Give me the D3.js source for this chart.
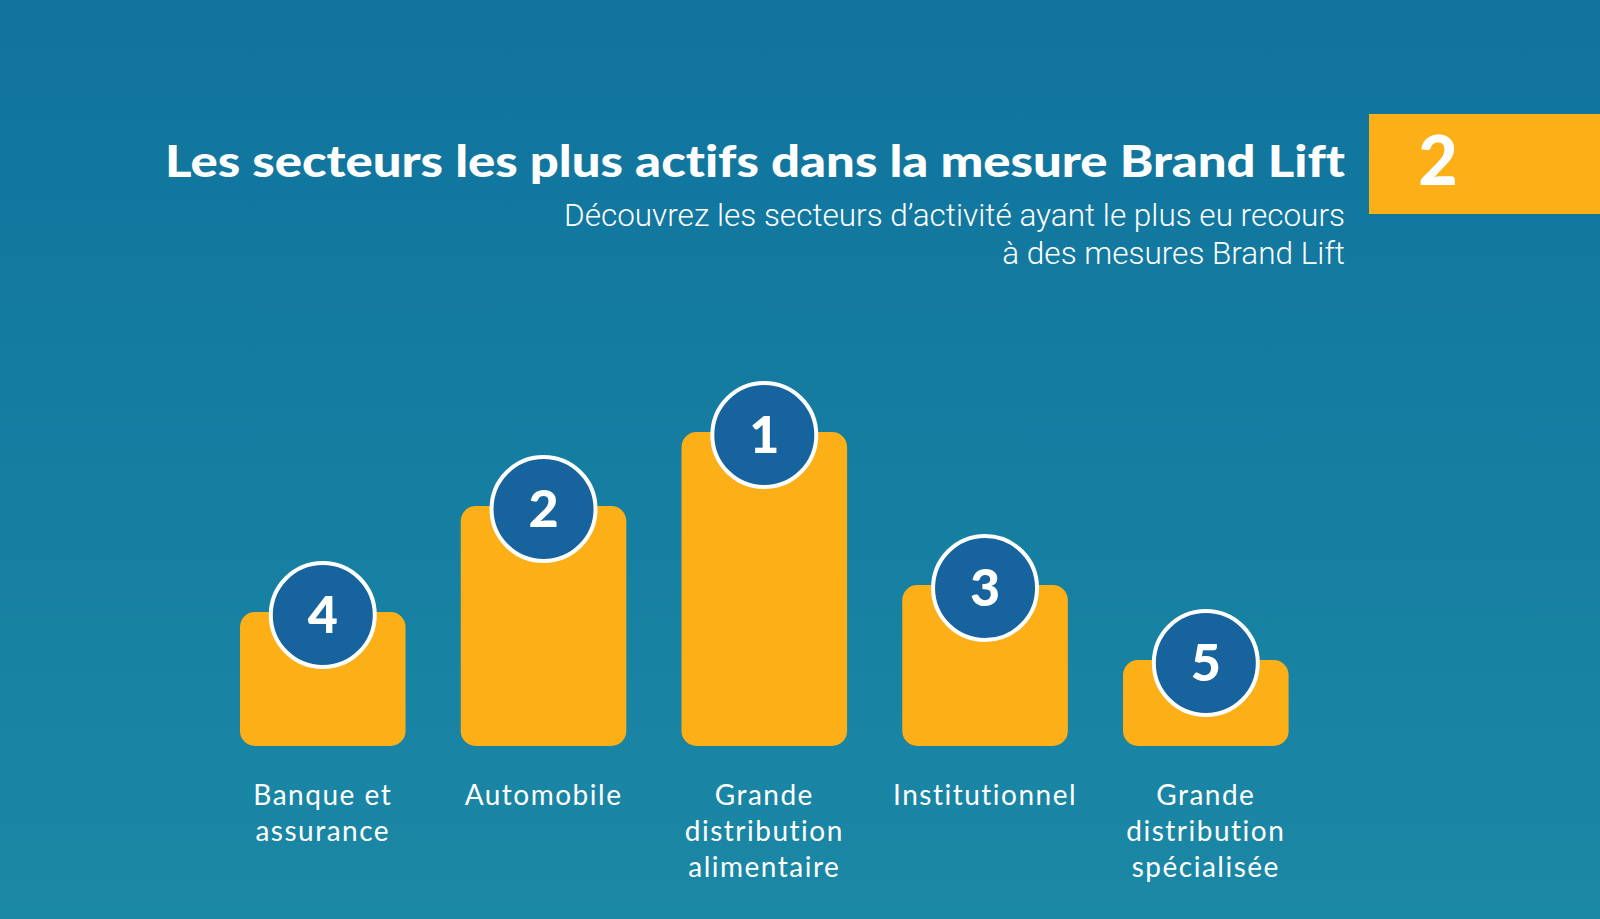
<!DOCTYPE html>
<html>
<head>
<meta charset="utf-8">
<script src="https://cdn.jsdelivr.net/npm/d3@7"></script>
<style>
  html, body { margin: 0; padding: 0; background: #10739d; }
  svg { display: block; }
  text { font-variant-ligatures: none; }
</style>
</head>
<body>
<div id="chart"></div>
<script>
// secteurs, classement et hauteur relative des barres
let sectors = [
  ["Banque et", "assurance"],
  ["Automobile"],
  ["Grande", "distribution", "alimentaire"],
  ["Institutionnel"],
  ["Grande", "distribution", "spécialisée"],
];
let ranks = [4, 2, 1, 3, 5];
let values = [134, 240, 314, 161, 86];

let title = "Les secteurs les plus actifs dans la mesure Brand Lift";
let subtitle = [
  "Découvrez les secteurs d’activité ayant le plus eu recours",
  "à des mesures Brand Lift",
];
let pageNumber = "2";

var w = 1600,
  h = 919;

var svg = d3
  .select("#chart")
  .append("svg")
  .attr("width", w)
  .attr("height", h);

var grad = svg
  .append("defs")
  .append("linearGradient")
  .attr("id", "bg")
  .attr("x1", 0)
  .attr("y1", 0)
  .attr("x2", 0)
  .attr("y2", 1);
grad.append("stop").attr("offset", "0%").attr("stop-color", "#10739d");
grad.append("stop").attr("offset", "100%").attr("stop-color", "#1b88a5");

svg
  .append("rect")
  .attr("width", w)
  .attr("height", h)
  .attr("fill", "url(#bg)");

// header
svg
  .append("text")
  .attr("x", 1345)
  .attr("y", 177)
  .attr("text-anchor", "end")
  .attr("fill", "white")
  .attr("font-family", "Lato, sans-serif")
  .attr("font-weight", 900)
  .attr("font-size", 44)
  .attr("textLength", 1180)
  .attr("lengthAdjust", "spacingAndGlyphs")
  .text(title);

svg
  .append("g")
  .selectAll("text")
  .data(subtitle)
  .enter()
  .append("text")
  .attr("x", 1345)
  .attr("y", (d, i) => 226 + i * 38)
  .attr("text-anchor", "end")
  .attr("fill", "white")
  .attr("font-family", "Roboto, sans-serif")
  .attr("font-weight", 300)
  .attr("font-size", 31.5)
  .text((d) => d);

svg
  .append("rect")
  .attr("x", 1369)
  .attr("y", 114)
  .attr("width", w - 1369)
  .attr("height", 100)
  .attr("fill", "#fcaf17");

svg
  .append("text")
  .attr("x", 1438)
  .attr("y", 185)
  .attr("text-anchor", "middle")
  .attr("fill", "white")
  .attr("font-family", "Lato, sans-serif")
  .attr("font-weight", 900)
  .attr("font-size", 68)
  .text(pageNumber);

// scales
var x = d3
  .scaleBand()
  .domain(d3.range(values.length))
  .range([212.4, 1316.2])
  .paddingInner(0.25)
  .paddingOuter(0.125);

var y = d3.scaleLinear().domain([0, 320]).range([746, 426]);

var bars = svg
  .append("g")
  .selectAll("g")
  .data(values)
  .enter()
  .append("g");

bars
  .append("rect")
  .attr("x", (d, i) => x(i))
  .attr("y", (d) => y(d))
  .attr("width", x.bandwidth())
  .attr("height", (d) => y(0) - y(d))
  .attr("rx", 15)
  .attr("fill", "#fcaf17");

bars
  .append("circle")
  .attr("cx", (d, i) => x(i) + x.bandwidth() / 2)
  .attr("cy", (d) => y(d) + 3)
  .attr("r", 52)
  .attr("fill", "#16639e")
  .attr("stroke", "white")
  .attr("stroke-width", 4);

bars
  .append("text")
  .attr("x", (d, i) => x(i) + x.bandwidth() / 2)
  .attr("y", (d) => y(d) + 21)
  .attr("text-anchor", "middle")
  .attr("fill", "white")
  .attr("font-family", "Lato, sans-serif")
  .attr("font-weight", 900)
  .attr("font-size", 52)
  .text((d, i) => ranks[i]);

// labels
var labels = svg
  .append("g")
  .selectAll("text")
  .data(sectors)
  .enter()
  .append("text")
  .attr("text-anchor", "middle")
  .attr("fill", "white")
  .attr("font-family", "Lato, sans-serif")
  .attr("font-size", 28)
  .attr("letter-spacing", 1.5);

labels
  .selectAll("tspan")
  .data((d, i) => d.map((line) => ({ line, i })))
  .enter()
  .append("tspan")
  .attr("x", (d) => x(d.i) + x.bandwidth() / 2)
  .attr("y", (d, j) => 805 + j * 36)
  .text((d) => d.line);
</script>
</body>
</html>
